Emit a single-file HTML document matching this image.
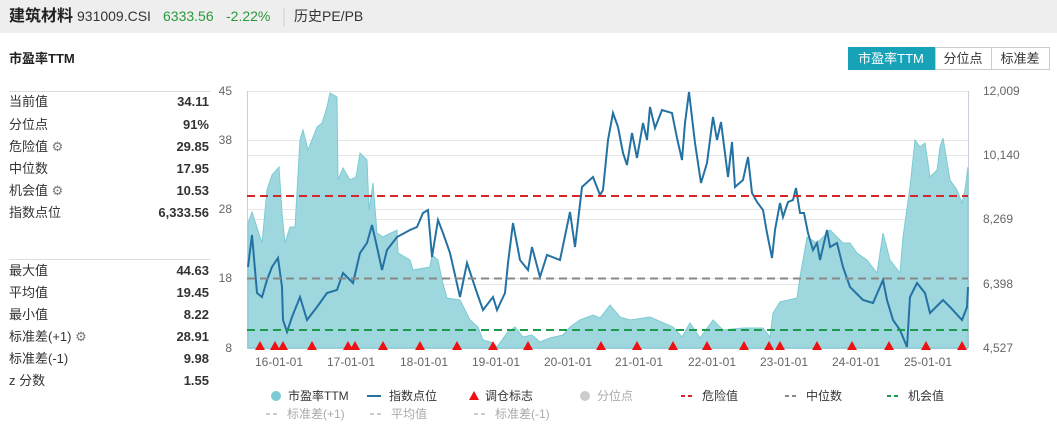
<!DOCTYPE html>
<html><head><meta charset="utf-8"><style>
body{margin:0;background:#fff;font-family:"Liberation Sans","Noto Sans CJK SC",sans-serif}
</style></head><body>
<svg width="1057" height="429" xmlns="http://www.w3.org/2000/svg" font-family="Liberation Sans, Noto Sans CJK SC, sans-serif">
<rect x="0" y="0" width="1057" height="33" fill="#eeeeee"/>
<text x="9" y="21" font-size="16" font-weight="bold" fill="#222">建筑材料</text>
<text x="77" y="21" font-size="14" fill="#333">931009.CSI</text>
<text x="163" y="21" font-size="14" fill="#2a9a3a">6333.56</text>
<text x="226" y="21" font-size="14" fill="#2a9a3a">-2.22%</text>
<line x1="284" y1="8" x2="284" y2="26" stroke="#ccc"/>
<text x="294" y="21" font-size="14" fill="#333">历史PE/PB</text>
<text x="9" y="63" font-size="13" font-weight="bold" fill="#222">市盈率TTM</text>
<rect x="848" y="47" width="87" height="23" fill="#17a2b8"/>
<text x="891" y="63" font-size="13" fill="#fff" text-anchor="middle">市盈率TTM</text>
<rect x="935.5" y="47.5" width="56" height="22" fill="#fff" stroke="#ccc"/>
<text x="963" y="63" font-size="13" fill="#333" text-anchor="middle">分位点</text>
<rect x="991.5" y="47.5" width="58" height="22" fill="#fff" stroke="#ccc"/>
<text x="1020" y="63" font-size="13" fill="#333" text-anchor="middle">标准差</text>
<line x1="9" y1="91.5" x2="210" y2="91.5" stroke="#ddd"/>
<line x1="9" y1="259.5" x2="210" y2="259.5" stroke="#ddd"/>
<g font-size="13" fill="#333">
<text x="9" y="106">当前值</text><text x="209" y="106" text-anchor="end" font-weight="bold">34.11</text>
<text x="9" y="129">分位点</text><text x="209" y="129" text-anchor="end" font-weight="bold">91%</text>
<text x="9" y="151">危险值 <tspan fill="#777">⚙</tspan></text><text x="209" y="151" text-anchor="end" font-weight="bold">29.85</text>
<text x="9" y="173">中位数</text><text x="209" y="173" text-anchor="end" font-weight="bold">17.95</text>
<text x="9" y="195">机会值 <tspan fill="#777">⚙</tspan></text><text x="209" y="195" text-anchor="end" font-weight="bold">10.53</text>
<text x="9" y="217">指数点位</text><text x="209" y="217" text-anchor="end" font-weight="bold">6,333.56</text>
<text x="9" y="275">最大值</text><text x="209" y="275" text-anchor="end" font-weight="bold">44.63</text>
<text x="9" y="297">平均值</text><text x="209" y="297" text-anchor="end" font-weight="bold">19.45</text>
<text x="9" y="319">最小值</text><text x="209" y="319" text-anchor="end" font-weight="bold">8.22</text>
<text x="9" y="341">标准差(+1) <tspan fill="#777">⚙</tspan></text><text x="209" y="341" text-anchor="end" font-weight="bold">28.91</text>
<text x="9" y="363">标准差(-1)</text><text x="209" y="363" text-anchor="end" font-weight="bold">9.98</text>
<text x="9" y="385">z 分数</text><text x="209" y="385" text-anchor="end" font-weight="bold">1.55</text>
</g>
<g stroke="#e6e6e6" stroke-width="1">
<line x1="247" y1="91.5" x2="968" y2="91.5"/><line x1="247" y1="140.5" x2="968" y2="140.5"/><line x1="247" y1="155.5" x2="968" y2="155.5"/>
<line x1="247" y1="209.5" x2="968" y2="209.5"/><line x1="247" y1="219.5" x2="968" y2="219.5"/><line x1="247" y1="278.5" x2="968" y2="278.5"/><line x1="247" y1="284.5" x2="968" y2="284.5"/>
</g>
<line x1="247.5" y1="91" x2="247.5" y2="348" stroke="#ccd"/>
<line x1="968.5" y1="91" x2="968.5" y2="348" stroke="#ccd"/>
<line x1="247" y1="348.5" x2="968" y2="348.5" stroke="#ccd"/>
<g font-size="12" fill="#666">
<text x="232" y="95" text-anchor="end">45</text><text x="232" y="144" text-anchor="end">38</text><text x="232" y="213" text-anchor="end">28</text><text x="232" y="282" text-anchor="end">18</text><text x="232" y="352" text-anchor="end">8</text>
<text x="983" y="95">12,009</text><text x="983" y="159">10,140</text><text x="983" y="223">8,269</text><text x="983" y="288">6,398</text><text x="983" y="352">4,527</text>
<g text-anchor="middle"><text x="279" y="366">16-01-01</text><text x="351" y="366">17-01-01</text><text x="424" y="366">18-01-01</text><text x="496" y="366">19-01-01</text><text x="568" y="366">20-01-01</text><text x="639" y="366">21-01-01</text><text x="712" y="366">22-01-01</text><text x="784" y="366">23-01-01</text><text x="856" y="366">24-01-01</text><text x="928" y="366">25-01-01</text></g>
</g>
<polygon fill="#9fd7de" stroke="#7ccbd4" stroke-width="1" points="248,348 248,223 252,212 262,243 267,190 272,175 279,167 282,213 285,243 290,227 295,227 300,140 303,130 308,150 317,127 322,123 327,107 330,93 337,97 338,180 343,168 350,180 356,177 360,153 367,160 369,210 373,183 377,233 383,237 397,230 398,253 410,260 413,270 430,267 432,255 438,260 442,280 447,298 460,300 470,320 478,327 483,340 493,343 497,347 507,333 515,327 523,337 532,335 540,342 550,338 563,335 570,327 580,320 593,315 600,318 610,305 620,317 630,320 650,317 673,327 682,337 690,323 700,338 713,320 723,330 743,328 763,328 770,337 773,313 780,302 797,298 800,277 807,237 817,243 830,230 843,243 850,243 857,253 867,260 877,273 883,233 890,260 900,273 903,237 910,187 915,140 920,147 925,143 930,177 937,170 940,147 943,138 950,180 957,190 962,203 965,190 968,167 968,348"/>
<polyline fill="none" stroke="#2472a4" stroke-width="2" points="248,267 252,235 257,293 262,297 267,280 272,267 278,258 282,287 283,320 287,332 292,317 300,297 307,320 317,307 327,293 337,290 343,273 353,283 360,253 367,243 372,225 377,247 382,270 387,250 397,237 410,230 417,227 423,213 428,210 432,257 438,220 443,233 450,253 460,297 467,263 477,293 483,310 493,297 497,310 505,293 508,263 513,223 520,260 528,270 532,247 540,277 547,255 560,260 570,212 575,247 582,187 593,177 600,195 603,190 608,140 613,113 618,127 623,153 627,165 632,133 637,158 643,123 647,140 650,107 655,128 662,110 672,113 677,138 682,160 685,123 689,92 695,143 701,183 707,163 713,117 717,140 721,122 728,177 732,142 735,187 743,180 748,157 752,193 757,202 763,210 767,233 772,258 775,230 780,203 783,217 788,202 793,200 796,188 800,213 804,213 808,233 813,250 817,243 820,260 827,230 830,247 837,243 843,267 850,287 863,300 873,303 883,280 887,300 893,320 900,330 907,347 910,297 917,283 925,293 930,313 943,300 950,307 962,320 967,307 968,287"/>
<line x1="247" y1="196" x2="968" y2="196" stroke="#d62728" stroke-width="2" stroke-dasharray="8,5"/>
<line x1="247" y1="278.5" x2="968" y2="278.5" stroke="#888" stroke-width="2" stroke-dasharray="8,5"/>
<line x1="247" y1="330" x2="968" y2="330" stroke="#1a9a4a" stroke-width="2" stroke-dasharray="8,5"/>
<g fill="#ee1111">
<path d="M260,341l-5,9h10z M275,341l-5,9h10z M283,341l-5,9h10z M312,341l-5,9h10z M348,341l-5,9h10z M355,341l-5,9h10z M383,341l-5,9h10z M420,341l-5,9h10z M457,341l-5,9h10z M493,341l-5,9h10z M528,341l-5,9h10z M601,341l-5,9h10z M637,341l-5,9h10z M673,341l-5,9h10z M707,341l-5,9h10z M744,341l-5,9h10z M769,341l-5,9h10z M780,341l-5,9h10z M817,341l-5,9h10z M852,341l-5,9h10z M889,341l-5,9h10z M926,341l-5,9h10z M962,341l-5,9h10z"/>
</g>
<g font-size="12" fill="#333">
<circle cx="276" cy="396" r="5" fill="#7ccbd4"/><text x="288" y="400">市盈率TTM</text>
<line x1="367" y1="396" x2="381" y2="396" stroke="#2472a4" stroke-width="2"/><text x="389" y="400">指数点位</text>
<path d="M474,391l-5,9h10z" fill="#ee1111"/><text x="485" y="400">调仓标志</text>
<circle cx="585" cy="396" r="5" fill="#ccc"/><text x="597" y="400" fill="#aaa">分位点</text>
<line x1="681" y1="396" x2="695" y2="396" stroke="#d62728" stroke-width="2" stroke-dasharray="4,3"/><text x="702" y="400">危险值</text>
<line x1="785" y1="396" x2="799" y2="396" stroke="#888" stroke-width="2" stroke-dasharray="4,3"/><text x="806" y="400">中位数</text>
<line x1="887" y1="396" x2="901" y2="396" stroke="#1a9a4a" stroke-width="2" stroke-dasharray="4,3"/><text x="908" y="400">机会值</text>
<g fill="#aaa"><line x1="266" y1="414" x2="280" y2="414" stroke="#ccc" stroke-width="2" stroke-dasharray="4,3"/><text x="287" y="418">标准差(+1)</text>
<line x1="370" y1="414" x2="384" y2="414" stroke="#ccc" stroke-width="2" stroke-dasharray="4,3"/><text x="391" y="418">平均值</text>
<line x1="474" y1="414" x2="488" y2="414" stroke="#ccc" stroke-width="2" stroke-dasharray="4,3"/><text x="495" y="418">标准差(-1)</text></g>
</g>
</svg>
</body></html>
